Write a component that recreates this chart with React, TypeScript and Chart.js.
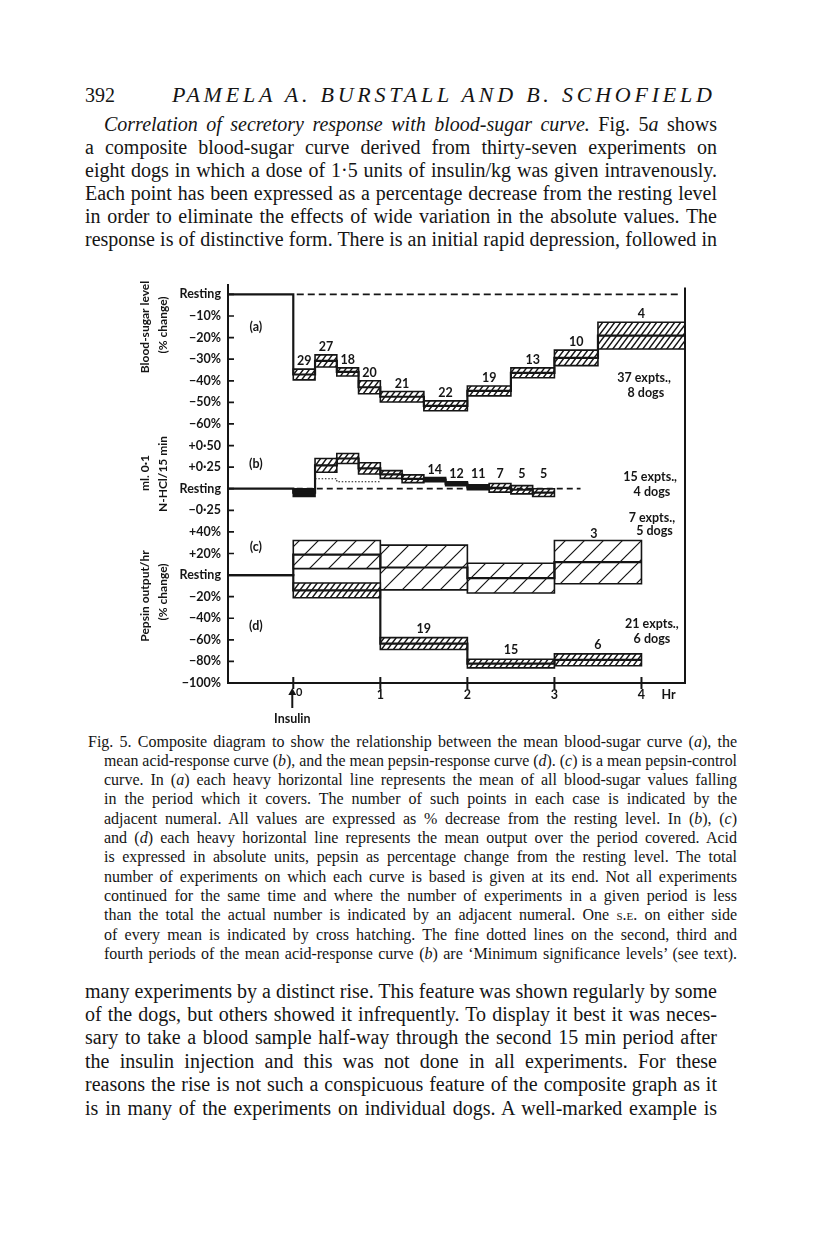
import React, { useEffect, useLayoutEffect, useRef } from 'react';
import { Chart, registerables } from 'chart.js';

Chart.register(...registerables);

// ---------------- data ----------------
// one evenly spaced row per tick label, top to bottom
const yTickLabels = [
  'Resting', '−10%', '−20%', '−30%', '−40%', '−50%', '−60%',
  '+0·50', '+0·25', 'Resting', '−0·25',
  '+40%', '+20%', 'Resting', '−20%', '−40%', '−60%', '−80%', '−100%',
];
const hourTicks = [0, 1, 2, 3, 4];

// (a) blood-sugar level, % change from resting
const sugarStart = [0, 0.25, 0.5, 0.75, 1, 1.5, 2, 2.5, 3, 3.5];
const sugarEnd = [0.25, 0.5, 0.75, 1, 1.5, 2, 2.5, 3, 3.5, 4.5];
const sugarMean = [-37.1, -30.8, -35.9, -43, -47.4, -51.6, -44.7, -36.3, -29.4, -19.1];
const sugarSE = [2.5, 2.8, 1.9, 3, 2.4, 2.3, 2.3, 2.3, 3.6, 6.2];
const sugarN = [29, 27, 18, 20, 21, 22, 19, 13, 10, 4];

// (b) acid, ml 0·1 N-HCl / 15 min, change from resting
const acidStart = [0, 0.25, 0.5, 0.75, 1, 1.25, 1.5, 1.75, 2, 2.25, 2.5, 2.75];
const acidEnd = [0.25, 0.5, 0.75, 1, 1.25, 1.5, 1.75, 2, 2.25, 2.5, 2.75, 3];
const acidMean = [-0.045, 0.27, 0.35, 0.235, 0.165, 0.115, 0.105, 0.058, 0.018, 0.01, -0.012, -0.045];
const acidSE = [0.045, 0.08, 0.058, 0.065, 0.045, 0.045, 0.025, 0.022, 0.028, 0.05, 0.048, 0.045];
const acidN = [null, null, null, null, null, null, 14, 12, 11, 7, 5, 5];
// minimum significance levels (fine dotted lines), periods 2-4
const acidSigStart = [0.25, 0.5, 0.75];
const acidSigEnd = [0.5, 0.75, 1];
const acidSig = [0.115, 0.08, 0.08];

// (c) pepsin control and (d) pepsin response, % change
const pepsinStart = [0, 1, 2, 3];
const pepsinEnd = [1, 2, 3, 4];
const controlMean = [19, 7, -2.8, 12];
const controlSE = [13, 20.7, 13.8, 20];
const controlN = [null, null, null, 3];
const responseMean = [-14.2, -63.5, -82, -78.5];
const responseSE = [6.8, 5.5, 4, 5.5];
const responseN = [null, 19, 15, 6];

// ---------------- mapping of each panel onto the shared row axis ----------------
const rowA = (pct: number) => -pct / 10;      // Resting (a) = row 0, 10 % per row
const rowB = (v: number) => 9 - v / 0.25;     // Resting (b) = row 9, 0·25 per row
const rowC = (pct: number) => 13 - pct / 20;  // Resting (c,d) = row 13, 20 % per row

const INK = '#151515';
const FONT = 'Lato, "Open Sans", sans-serif';
const solidAcidPeriods = [0, 6, 7, 8];

function hatch(w: number, h: number, lw: number) {
  const c = document.createElement('canvas');
  c.width = w; c.height = h;
  const g = c.getContext('2d')!;
  g.fillStyle = '#fff';
  g.fillRect(0, 0, w, h);
  g.strokeStyle = INK; g.lineWidth = lw;
  g.beginPath();
  for (const n of [0, 1, 2]) {
    g.moveTo((n + 1) * w, -h);
    g.lineTo((n - 2) * w, 2 * h);
  }
  g.stroke();
  return g.createPattern(c, 'repeat')!;
}

function rectDs(x0: number, x1: number, top: number, bot: number, bg: any) {
  return {
    data: [{ x: x0, y: top }, { x: x1, y: top }, { x: x1, y: bot }, { x: x0, y: bot }, { x: x0, y: top }],
    borderColor: INK, borderWidth: 1.6, borderCapStyle: 'square', borderJoinStyle: 'miter',
    backgroundColor: bg, fill: 'shape', pointRadius: 0, tension: 0, order: 2,
  };
}

function stepDs(starts: number[], ends: number[], means: number[], row: (v: number) => number) {
  const pts = [{ x: -0.75, y: row(0) }, ...starts.map((s, i) => ({ x: s, y: row(means[i]) }))];
  pts.push({ x: ends[ends.length - 1], y: row(means[means.length - 1]) });
  return { data: pts, borderColor: INK, borderWidth: 2.2, stepped: true, pointRadius: 0, fill: false, order: 0 };
}

function lineDs(pts: { x: number; y: number }[], dash: number[], width: number, stepped = false) {
  return { data: pts, borderColor: INK, borderWidth: width, borderDash: dash, stepped, pointRadius: 0, fill: false, order: 0 };
}

function ChartFigure() {
  const ref = useRef<HTMLCanvasElement>(null);
  useEffect(() => {
    const fine = hatch(6, 8, 1.4);
    const coarse = hatch(19, 19, 1.2);
    const datasets: any[] = [];

    sugarStart.forEach((s, i) => {
      datasets.push(rectDs(s, sugarEnd[i], rowA(sugarMean[i] + sugarSE[i]), rowA(sugarMean[i] - sugarSE[i]), fine));
    });
    acidStart.forEach((s, i) => {
      const bg = solidAcidPeriods.includes(i) ? INK : fine;
      datasets.push(rectDs(s, acidEnd[i], rowB(acidMean[i] + acidSE[i]), rowB(acidMean[i] - acidSE[i]), bg));
    });
    pepsinStart.forEach((s, i) => {
      datasets.push(rectDs(s, pepsinEnd[i], rowC(controlMean[i] + controlSE[i]), rowC(controlMean[i] - controlSE[i]), coarse));
      datasets.push(rectDs(s, pepsinEnd[i], rowC(responseMean[i] + responseSE[i]), rowC(responseMean[i] - responseSE[i]), fine));
    });

    datasets.push(stepDs(sugarStart, sugarEnd, sugarMean, rowA));
    datasets.push(stepDs(acidStart, acidEnd, acidMean, rowB));
    datasets.push(stepDs(pepsinStart, pepsinEnd, controlMean, rowC));
    datasets.push(stepDs(pepsinStart, pepsinEnd, responseMean, rowC));

    // resting reference lines (dashed)
    datasets.push(lineDs([{ x: 0.04, y: rowA(0) }, { x: 4.45, y: rowA(0) }], [7, 4], 1.7));
    datasets.push(lineDs([{ x: 0.04, y: rowB(0) }, { x: 3.3, y: rowB(0) }], [6, 4], 1.7));
    // minimum significance levels (fine dotted)
    const sigPts = acidSigStart.map((s, i) => ({ x: s, y: rowB(acidSig[i]) }));
    sigPts.push({ x: acidSigEnd[acidSigEnd.length - 1], y: rowB(acidSig[acidSig.length - 1]) });
    datasets.push(lineDs(sigPts, [1.5, 1.8], 1.1, true));

    const annot = {
      id: 'annot',
      afterDatasetsDraw(chart: any) {
        const { ctx, chartArea: ca, scales } = chart;
        const x = scales.x, y = scales.y;
        const X = (v: number) => x.getPixelForValue(v);
        const Y = (v: number) => y.getPixelForValue(v);
        ctx.save();
        ctx.strokeStyle = INK; ctx.fillStyle = INK;
        // right-hand frame line
        ctx.lineWidth = 2;
        ctx.beginPath(); ctx.moveTo(ca.right, ca.top + 3); ctx.lineTo(ca.right, ca.bottom); ctx.stroke();
        // inner y ticks
        ctx.lineWidth = 1.7;
        ctx.beginPath();
        y.ticks.forEach((t: any) => { const py = Y(t.value); ctx.moveTo(ca.left, py); ctx.lineTo(ca.left + 6, py); });
        ctx.stroke();
        // x ticks crossing the axis
        ctx.lineWidth = 2;
        ctx.beginPath();
        x.ticks.forEach((t: any) => { const px = X(t.value); ctx.moveTo(px, ca.bottom - 6); ctx.lineTo(px, ca.bottom + 6); });
        ctx.stroke();

        ctx.textAlign = 'center'; ctx.textBaseline = 'middle';
        ctx.font = `bold 12.5px ${FONT}`;
        const label = (txt: string, px: number, py: number) => ctx.fillText(txt, px, py);
        // period counts
        sugarN.forEach((n, i) => label(String(n), X((sugarStart[i] + sugarEnd[i]) / 2), Y(rowA(sugarMean[i] + sugarSE[i])) - 8));
        acidN.forEach((n, i) => { if (n != null) label(String(n), X((acidStart[i] + acidEnd[i]) / 2), Math.min(Y(rowB(acidMean[i] + acidSE[i])) - 8, Y(rowB(0)) - 15)); });
        controlN.forEach((n, i) => { if (n != null) label(String(n), X((pepsinStart[i] + pepsinEnd[i]) / 2) - 4, Y(rowC(controlMean[i] + controlSE[i])) - 7); });
        responseN.forEach((n, i) => { if (n != null) label(String(n), X((pepsinStart[i] + pepsinEnd[i]) / 2), Y(rowC(responseMean[i] + responseSE[i])) - 9); });

        // panel letters
        label('(a)', X(-0.43), Y(1.5));
        label('(b)', X(-0.43), Y(7.85));
        label('(c)', X(-0.43), Y(11.72));
        label('(d)', X(-0.43), Y(15.37));
        // experiment totals
        label('37 expts.,', X(4.03), Y(3.85)); label('8 dogs', X(4.05), Y(4.55));
        label('15 expts.,', X(4.1), Y(8.45)); label('4 dogs', X(4.12), Y(9.15));
        label('7 expts.,', X(4.12), Y(10.35)); label('5 dogs', X(4.15), Y(10.95));
        label('21 expts.,', X(4.12), Y(15.25)); label('6 dogs', X(4.12), Y(15.98));

        // insulin arrow and hour marks
        const x0 = X(0) - 1;
        ctx.lineWidth = 2;
        ctx.beginPath(); ctx.moveTo(x0, ca.bottom + 9); ctx.lineTo(x0, ca.bottom + 25); ctx.stroke();
        ctx.beginPath(); ctx.moveTo(x0, ca.bottom + 5); ctx.lineTo(x0 - 4, ca.bottom + 12); ctx.lineTo(x0 + 4, ca.bottom + 12); ctx.closePath(); ctx.fill();
        label('Insulin', x0, ca.bottom + 36);
        ctx.font = `bold 11px ${FONT}`;
        label('0', X(0) + 6, ca.bottom + 9);
        ctx.font = `bold 12.5px ${FONT}`;
        label('Hr', X(4) + 27, ca.bottom + 12);

        // rotated axis titles
        const vtext = (txt: string, px: number, py: number) => {
          ctx.save(); ctx.translate(px, py); ctx.rotate(-Math.PI / 2); ctx.fillText(txt, 0, 0); ctx.restore();
        };
        ctx.font = `bold 12px ${FONT}`;
        vtext('Blood-sugar level', 145, 57);
        vtext('(% change)', 163, 55);
        vtext('ml. 0·1', 145, 203);
        vtext('N-HCl/15 min', 163, 204);
        vtext('Pepsin output/hr', 145, 326);
        vtext('(% change)', 163, 322);
        ctx.restore();
      },
    };

    const chart = new Chart(ref.current!, {
      type: 'line',
      data: { datasets },
      options: {
        responsive: false,
        animation: false,
        devicePixelRatio: 1,
        layout: { padding: { left: 0, right: 131, top: 13, bottom: 0 } },
        plugins: { legend: { display: false }, tooltip: { enabled: false } },
        scales: {
          x: {
            type: 'linear', min: -0.75, max: 4.5,
            afterBuildTicks: (s: any) => { s.ticks = hourTicks.map((v) => ({ value: v })); },
            afterFit: (s: any) => { s.height = 47; },
            grid: { display: false, drawTicks: false },
            border: { display: true, width: 2, color: INK },
            ticks: {
              padding: 4, color: INK, autoSkip: false, maxRotation: 0,
              font: { family: FONT, weight: 'bold', size: 12.5 },
              callback: (v: any) => (v === 0 ? '' : String(v)),
            },
          },
          y: {
            type: 'linear', reverse: true, min: -0.46, max: 18,
            afterBuildTicks: (s: any) => { s.ticks = yTickLabels.map((_, i) => ({ value: i })); },
            afterFit: (s: any) => { s.width = 228; },
            grid: { display: false, drawTicks: false },
            border: { display: true, width: 2, color: INK },
            ticks: {
              padding: 7, color: INK, autoSkip: false,
              font: { family: FONT, weight: 'bold', size: 12.5 },
              callback: (v: any) => yTickLabels[v] ?? '',
            },
          },
        },
      } as any,
      plugins: [annot],
    } as any);
    return () => chart.destroy();
  }, []);
  return <canvas ref={ref} width={816} height={460} style={{ position: 'absolute', left: 0, top: 270, width: 816, height: 460 }} />;
}

// ---------------- page text ----------------
type L = { x: number; y: number; w: number; size: number; lh: number; c: React.ReactNode; mode?: 'word' | 'letter' | 'none' };

const SERIF = '"Liberation Serif", "Times New Roman", serif';

const headerLines: L[] = [
  { x: 85, y: 95, w: 34, size: 20, lh: 22, c: '392', mode: 'none' },
  { x: 172, y: 95, w: 540, size: 22, lh: 24, c: <i>PAMELA A. BURSTALL AND B. SCHOFIELD</i>, mode: 'letter' },
];

const para1 = [
  <><i>Correlation of secretory response with blood-sugar curve.</i> Fig. 5<i>a</i> shows</>,
  'a composite blood-sugar curve derived from thirty-seven experiments on',
  'eight dogs in which a dose of 1·5 units of insulin/kg was given intravenously.',
  'Each point has been expressed as a percentage decrease from the resting level',
  'in order to eliminate the effects of wide variation in the absolute values. The',
  'response is of distinctive form. There is an initial rapid depression, followed in',
];

const caption = [
  <>Fig. 5. Composite diagram to show the relationship between the mean blood-sugar curve (<i>a</i>), the</>,
  <>mean acid-response curve (<i>b</i>), and the mean pepsin-response curve (<i>d</i>). (<i>c</i>) is a mean pepsin-control</>,
  <>curve. In (<i>a</i>) each heavy horizontal line represents the mean of all blood-sugar values falling</>,
  'in the period which it covers. The number of such points in each case is indicated by the',
  <>adjacent numeral. All values are expressed as % decrease from the resting level. In (<i>b</i>), (<i>c</i>)</>,
  <>and (<i>d</i>) each heavy horizontal line represents the mean output over the period covered. Acid</>,
  'is expressed in absolute units, pepsin as percentage change from the resting level. The total',
  'number of experiments on which each curve is based is given at its end. Not all experiments',
  'continued for the same time and where the number of experiments in a given period is less',
  <>than the total the actual number is indicated by an adjacent numeral. One <span style={{ fontVariant: 'small-caps' }}>s.e.</span> on either side</>,
  'of every mean is indicated by cross hatching. The fine dotted lines on the second, third and',
  <>fourth periods of the mean acid-response curve (<i>b</i>) are ‘Minimum significance levels’ (see text).</>,
];

const para2 = [
  'many experiments by a distinct rise. This feature was shown regularly by some',
  'of the dogs, but others showed it infrequently. To display it best it was neces-',
  'sary to take a blood sample half-way through the second 15 min period after',
  'the insulin injection and this was not done in all experiments. For these',
  'reasons the rise is not such a conspicuous feature of the composite graph as it',
  'is in many of the experiments on individual dogs. A well-marked example is',
];

const lines: L[] = [
  ...headerLines,
  ...para1.map((c, i) => ({ x: i === 0 ? 104 : 85, y: 124 + i * 23, w: i === 0 ? 613 : 632, size: 20, lh: 23, c })),
  ...caption.map((c, i) => ({ x: i === 0 ? 88 : 104, y: 741 + i * 19.3, w: i === 0 ? 649 : 633, size: 16, lh: 19, c })),
  ...para2.map((c, i) => ({ x: 85, y: 991 + i * 23.4, w: 632, size: 20, lh: 23, c })),
];

function fitLines(root: HTMLElement) {
  root.querySelectorAll<HTMLElement>('.jl').forEach((el) => {
    const span = el.firstElementChild as HTMLElement;
    const mode = el.dataset.mode || 'word';
    span.style.wordSpacing = '0px';
    span.style.letterSpacing = '0px';
    span.style.transform = '';
    const W = el.clientWidth;
    const w = span.getBoundingClientRect().width;
    const txt = span.textContent || '';
    if (w <= W) {
      if (mode === 'letter') {
        span.style.letterSpacing = (W - w) / Math.max(1, txt.length - 1) + 'px';
      } else {
        const spaces = txt.split(' ').length - 1;
        if (spaces > 0) span.style.wordSpacing = (W - w) / spaces + 'px';
      }
    } else {
      span.style.transform = `scaleX(${W / w})`;
    }
  });
}

export default function App() {
  const root = useRef<HTMLDivElement>(null);
  useLayoutEffect(() => {
    if (!root.current) return;
    fitLines(root.current);
    const r = root.current;
    (document as any).fonts?.ready?.then(() => fitLines(r));
  }, []);
  return (
    <div ref={root} style={{ position: 'absolute', left: 0, top: 0, width: 816, height: 1249, overflow: 'hidden', background: '#fff', color: INK, fontFamily: SERIF }}>
      {lines.map((l, i) => (
        <div
          key={i}
          className={l.mode === 'none' ? '' : 'jl'}
          data-mode={l.mode || 'word'}
          style={{ position: 'absolute', left: l.x, top: l.y - l.lh / 2, width: l.w, height: l.lh, lineHeight: l.lh + 'px', fontSize: l.size, whiteSpace: 'nowrap' }}
        >
          <span style={{ display: 'inline-block', whiteSpace: 'nowrap', transformOrigin: '0 50%' }}>{l.c}</span>
        </div>
      ))}
      <ChartFigure />
    </div>
  );
}
